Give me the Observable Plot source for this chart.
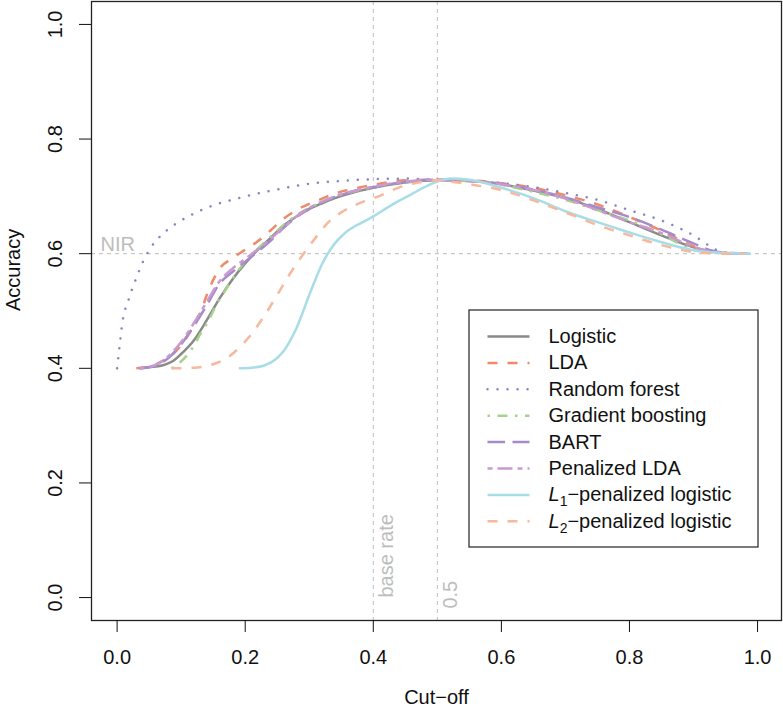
<!DOCTYPE html>
<html><head><meta charset="utf-8">
<script src="https://cdn.jsdelivr.net/npm/d3@7"></script>
<script src="https://cdn.jsdelivr.net/npm/@observablehq/plot@0.6"></script>
<style>body{margin:0;background:#fff}</style>
</head><body><div id="chart"></div>
<script>
// ---- data ----
const seriesNames = ["Logistic","LDA","Random forest","Gradient boosting","BART","Penalized LDA","L1\u2212penalized logistic","L2\u2212penalized logistic"];

const cutLogistic = [0.035,0.05,0.07,0.09,0.10,0.12,0.14,0.16,0.18,0.20,0.22,0.24,0.26,0.28,0.30,0.32,0.34,0.36,0.38,0.40,0.45,0.50,0.55,0.60,0.65,0.70,0.75,0.80,0.85,0.90,0.95,0.98];
const accLogistic = [0.400,0.402,0.405,0.415,0.425,0.449,0.484,0.522,0.555,0.583,0.607,0.628,0.649,0.665,0.678,0.688,0.697,0.704,0.710,0.715,0.724,0.728,0.727,0.721,0.710,0.697,0.678,0.655,0.632,0.611,0.601,0.600];

const cutLDA = [0.03,0.05,0.07,0.09,0.10,0.12,0.13,0.14,0.16,0.18,0.20,0.22,0.24,0.26,0.28,0.30,0.32,0.34,0.36,0.38,0.40,0.45,0.50,0.55,0.60,0.65,0.70,0.75,0.80,0.85,0.875,0.90,0.95,0.98];
const accLDA = [0.400,0.403,0.412,0.428,0.440,0.475,0.496,0.528,0.574,0.592,0.607,0.622,0.641,0.661,0.676,0.687,0.696,0.705,0.711,0.716,0.720,0.728,0.729,0.728,0.723,0.715,0.702,0.686,0.664,0.640,0.626,0.613,0.601,0.600];

const cutRF = [0.000,0.004,0.008,0.012,0.018,0.024,0.03,0.04,0.05,0.06,0.07,0.08,0.09,0.10,0.12,0.14,0.16,0.18,0.20,0.25,0.30,0.35,0.40,0.45,0.50,0.55,0.60,0.65,0.70,0.75,0.80,0.85,0.875,0.90,0.92,0.935,0.95,0.97,0.99];
const accRF = [0.400,0.440,0.478,0.500,0.520,0.540,0.558,0.585,0.606,0.622,0.633,0.643,0.651,0.658,0.670,0.680,0.688,0.694,0.700,0.712,0.722,0.727,0.730,0.731,0.729,0.727,0.723,0.716,0.706,0.694,0.676,0.658,0.646,0.632,0.617,0.607,0.602,0.600,0.600];

const cutGB = [0.085,0.10,0.115,0.13,0.143,0.156,0.17,0.18,0.20,0.22,0.24,0.26,0.28,0.30,0.32,0.34,0.36,0.38,0.40,0.45,0.50,0.55,0.60,0.65,0.70,0.75,0.80,0.85,0.90,0.95,0.98];
const accGB = [0.400,0.412,0.431,0.460,0.484,0.513,0.538,0.556,0.586,0.609,0.630,0.650,0.667,0.680,0.690,0.699,0.706,0.711,0.716,0.725,0.728,0.727,0.720,0.708,0.694,0.676,0.658,0.634,0.607,0.601,0.600];

const cutBART = [0.035,0.06,0.08,0.10,0.12,0.14,0.16,0.18,0.20,0.22,0.24,0.26,0.28,0.30,0.32,0.34,0.36,0.38,0.40,0.45,0.50,0.55,0.60,0.65,0.70,0.75,0.80,0.85,0.90,0.93,0.96,0.99];
const accBART = [0.400,0.405,0.418,0.442,0.474,0.510,0.548,0.568,0.586,0.604,0.623,0.645,0.664,0.678,0.690,0.699,0.706,0.712,0.716,0.725,0.729,0.727,0.722,0.712,0.698,0.681,0.664,0.642,0.618,0.605,0.601,0.600];

const cutPLDA = [0.035,0.06,0.08,0.10,0.12,0.14,0.16,0.18,0.20,0.22,0.24,0.26,0.28,0.30,0.32,0.34,0.36,0.38,0.40,0.45,0.50,0.55,0.60,0.65,0.70,0.75,0.80,0.85,0.90,0.93,0.96,0.99];
const accPLDA = [0.400,0.406,0.421,0.446,0.479,0.516,0.552,0.574,0.591,0.608,0.626,0.646,0.665,0.680,0.691,0.700,0.707,0.712,0.717,0.726,0.729,0.727,0.721,0.711,0.696,0.676,0.655,0.636,0.612,0.603,0.600,0.600];

const cutL1 = [0.19,0.21,0.23,0.25,0.26,0.27,0.28,0.29,0.30,0.31,0.32,0.33,0.34,0.35,0.36,0.37,0.38,0.40,0.42,0.44,0.46,0.48,0.50,0.52,0.55,0.60,0.65,0.70,0.75,0.80,0.85,0.90,0.95,0.99];
const accL1 = [0.400,0.401,0.405,0.418,0.430,0.448,0.470,0.498,0.528,0.556,0.582,0.602,0.618,0.630,0.640,0.647,0.653,0.665,0.679,0.692,0.704,0.716,0.726,0.731,0.729,0.715,0.697,0.674,0.655,0.637,0.620,0.606,0.601,0.600];

const cutL2 = [0.085,0.12,0.15,0.17,0.19,0.21,0.23,0.25,0.27,0.29,0.31,0.33,0.35,0.37,0.39,0.41,0.43,0.45,0.47,0.50,0.55,0.60,0.65,0.70,0.75,0.80,0.85,0.90,0.95,0.98];
const accL2 = [0.400,0.401,0.407,0.417,0.435,0.460,0.492,0.528,0.565,0.598,0.628,0.655,0.672,0.684,0.693,0.701,0.711,0.719,0.724,0.728,0.721,0.711,0.693,0.672,0.650,0.632,0.615,0.603,0.600,0.600];

const xTicks = [0, 0.2, 0.4, 0.6, 0.8, 1.0];
const yTicks = [0, 0.2, 0.4, 0.6, 0.8, 1.0];
const nirValue = 0.6;
const baseRate = 0.4;
const threshold = 0.5;
const refLabels = ["NIR", "base rate", "0.5"];

// ---- styles ----
const colors = ["#8a8a8a","#ee8a69","#8585c2","#a6d38c","#a68bcb","#c99ad0","#a8dde8","#f7b89b"];
const dashes = [null,"10,10","0.01,10","2.5,7.5,10,7.5","17.5,7.5","5,5,15,5",null,"10,10"];
const caps = ["butt","butt","round","butt","butt","butt","butt","butt"];
const cuts = [cutLogistic,cutLDA,cutRF,cutGB,cutBART,cutPLDA,cutL1,cutL2];
const accs = [accLogistic,accLDA,accRF,accGB,accBART,accPLDA,accL1,accL2];

const series = seriesNames.map((name,i) => ({
  name, color: colors[i], dash: dashes[i], cap: caps[i],
  pts: cuts[i].map((c,j) => ({cut: c, acc: accs[i][j]}))
}));

// ---- layout ----
const W = 783, H = 711, mL = 91, mR = 2, mT = 1, mB = 91;
const xDom = [-0.04, 1.0374], yDom = [-0.04, 1.04];
const xInv = p => xDom[0] + (p - mL) / (W - mL - mR) * (xDom[1] - xDom[0]);
const yInv = p => yDom[1] - (p - mT) / (H - mT - mB) * (yDom[1] - yDom[0]);
const refColor = "#bdbdbd";

const lineMarks = series.map(s => Plot.line(s.pts, {
  x: "cut", y: "acc", stroke: s.color, strokeWidth: 2.5,
  strokeDasharray: s.dash, strokeLinecap: s.cap, curve: "monotone-x"
}));

const legendMarks = [
  Plot.rect([0], {x1: () => xInv(469), x2: () => xInv(758), y1: () => yInv(310), y2: () => yInv(547),
    fill: "white", stroke: "#222", strokeWidth: 1.2})
];
series.forEach((s, i) => {
  const yy = yInv(336 + 26.4 * i);
  legendMarks.push(Plot.link([s], {x1: () => xInv(487), x2: () => xInv(529), y1: () => yy, y2: () => yy,
    stroke: s.color, strokeWidth: 2.5, strokeDasharray: s.dash, strokeLinecap: s.cap}));
  legendMarks.push(Plot.text([s], {x: () => xInv(548), y: () => yy, text: d => d.name,
    textAnchor: "start", lineAnchor: "middle", fill: "#111", fontSize: 20}));
});

const plot = Plot.plot({
  width: W, height: H,
  marginLeft: mL, marginRight: mR, marginTop: mT, marginBottom: mB,
  style: {fontFamily: '"Liberation Sans", Arial, Helvetica, sans-serif', fontSize: "20px", color: "#111", background: "white"},
  x: {domain: xDom},
  y: {domain: yDom},
  marks: [
    Plot.ruleY([nirValue], {stroke: refColor, strokeWidth: 1, strokeDasharray: "4,4"}),
    Plot.ruleX([baseRate, threshold], {stroke: refColor, strokeWidth: 1, strokeDasharray: "4,4"}),
    Plot.text([nirValue], {y: d => d, text: () => refLabels[0], frameAnchor: "left", textAnchor: "start",
      lineAnchor: "bottom", dx: 9, dy: -3, fill: refColor, fontSize: 20}),
    Plot.text([baseRate], {x: d => d, y: () => 0, text: () => refLabels[1], rotate: -90, textAnchor: "start",
      lineAnchor: "middle", dx: 13, fill: refColor, fontSize: 20}),
    Plot.text([threshold], {x: d => d, y: () => 0, text: () => refLabels[2], rotate: -90, textAnchor: "start",
      lineAnchor: "middle", dx: 13, dy: 11, fill: refColor, fontSize: 20}),
    ...lineMarks,
    ...legendMarks,
    Plot.frame({stroke: "#222", strokeWidth: 1.3}),
    Plot.axisX({ticks: xTicks, tickSize: 12, tickPadding: 17, tickFormat: d3.format(".1f"), fontSize: 20, label: null}),
    Plot.axisY({ticks: yTicks, tickSize: 12, tickFormat: () => "", label: null}),
    Plot.text(yTicks, {y: d => d, text: d => d3.format(".1f")(d), frameAnchor: "left", dx: -36, rotate: -90,
      textAnchor: "middle", lineAnchor: "middle", fill: "#111", fontSize: 20}),
    Plot.text(["Cut\u2212off"], {frameAnchor: "bottom", dy: 77, lineAnchor: "middle", fill: "#111", fontSize: 20}),
    Plot.text(["Accuracy"], {frameAnchor: "left", dx: -78, rotate: -90, lineAnchor: "middle", fill: "#111", fontSize: 20})
  ]
});

// italic L with subscript in legend entries
const NS = "http://www.w3.org/2000/svg";
plot.querySelectorAll("text").forEach(t => {
  const m = t.textContent.match(/^L([12])\u2212penalized logistic$/);
  if (m) {
    t.textContent = "";
    const a = document.createElementNS(NS, "tspan"); a.setAttribute("font-style", "italic"); a.textContent = "L";
    const b = document.createElementNS(NS, "tspan"); b.setAttribute("font-size", "14"); b.setAttribute("dy", "5"); b.textContent = m[1];
    const c = document.createElementNS(NS, "tspan"); c.setAttribute("dy", "-5"); c.textContent = "\u2212penalized logistic";
    t.append(a, b, c);
  }
});

document.getElementById("chart").appendChild(plot);
</script>
</body></html>
